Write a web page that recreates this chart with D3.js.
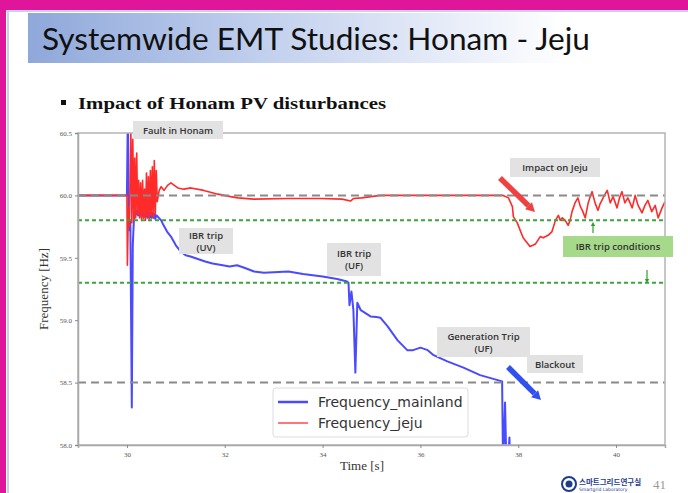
<!DOCTYPE html>
<html><head><meta charset="utf-8">
<script src="https://cdn.jsdelivr.net/npm/d3@7"></script>
<style>html,body{margin:0;padding:0;background:#fff;}svg{display:block;}</style>
</head><body>
<svg id="c" width="688" height="493"></svg>
<script>
// ---- data ----
const titleText = "Systemwide EMT Studies: Honam - Jeju";
const subtitleText = "Impact of Honam PV disturbances";
const seriesNames = ["Frequency_mainland", "Frequency_jeju"];
const xTicks = [30, 32, 34, 36, 38, 40];
const yTicks = [58.0, 58.5, 59.0, 59.5, 60.0, 60.5];
const greyRefLines = [60.0, 58.5];
const greenRefLines = [59.8, 59.3];

const tMain = [29, 30.0, 30.02, 30.03, 30.05, 30.07, 30.1, 30.12, 30.15, 30.18, 30.2, 30.22, 30.24, 30.26, 30.28, 30.3, 30.32, 30.34, 30.36, 30.38, 30.4, 30.42, 30.44, 30.46, 30.48, 30.5, 30.52, 30.54, 30.56, 30.58, 30.6, 30.63, 30.7, 30.75, 30.82, 30.9, 31.0, 31.1, 31.2, 31.3, 31.45, 31.6, 31.75, 31.9, 32.1, 32.25, 32.4, 32.6, 32.8, 33.0, 33.3, 33.6, 34.0, 34.3, 34.5, 34.53, 34.55, 34.59, 34.63, 34.67, 34.71, 34.78, 34.9, 34.98, 35.1, 35.18, 35.33, 35.53, 35.73, 35.85, 36.0, 36.15, 36.27, 36.55, 36.88, 37.22, 37.49, 37.67, 37.69, 37.73, 37.76, 37.78, 37.82, 37.84];
const fMain = [60, 60, 60.7, 59.85, 59.72, 59.8, 58.3, 59.6, 59.87, 59.85, 59.88, 59.84, 59.87, 59.83, 59.86, 59.84, 59.87, 59.82, 59.86, 59.83, 59.87, 59.82, 59.86, 59.82, 59.86, 59.82, 59.86, 59.82, 59.85, 59.81, 59.84, 59.83, 59.8, 59.76, 59.71, 59.67, 59.6, 59.55, 59.52, 59.51, 59.49, 59.47, 59.455, 59.445, 59.43, 59.44, 59.42, 59.39, 59.38, 59.385, 59.39, 59.37, 59.35, 59.33, 59.31, 59.3, 59.12, 59.23, 59.08, 58.58, 59.14, 59.08, 59.05, 59.03, 59.025, 59.02, 58.95, 58.84, 58.76, 58.76, 58.78, 58.76, 58.72, 58.67, 58.62, 58.56, 58.53, 58.51, 57.8, 58.34, 57.8, 57.8, 58.06, 57.8];

const tJeju = [29, 30.0, 30.01, 30.03, 30.05, 30.08, 30.1, 30.12, 30.14, 30.16, 30.18, 30.2, 30.22, 30.24, 30.26, 30.28, 30.3, 30.32, 30.34, 30.36, 30.38, 30.4, 30.42, 30.44, 30.46, 30.48, 30.5, 30.52, 30.54, 30.56, 30.58, 30.6, 30.62, 30.66, 30.7, 30.76, 30.83, 30.9, 31.04, 31.16, 31.31, 31.57, 31.86, 32.12, 32.27, 32.59, 33.29, 33.96, 34.4, 34.57, 34.63, 34.8, 35.18, 35.6, 36.5, 37.69, 37.80, 37.88, 37.9, 37.98, 38.04, 38.10, 38.18, 38.24, 38.3, 38.35, 38.45, 38.51, 38.61, 38.69, 38.76, 38.82, 38.86, 38.90, 38.96, 39.02, 39.06, 39.1, 39.16, 39.22, 39.27, 39.31, 39.37, 39.43, 39.47, 39.51, 39.57, 39.63, 39.67, 39.71, 39.76, 39.82, 39.88, 39.94, 40.02, 40.07, 40.12, 40.18, 40.24, 40.33, 40.39, 40.45, 40.53, 40.59, 40.65, 40.73, 40.80, 40.86, 40.94, 41.0];
const fJeju = [60, 60, 59.44, 59.9, 59.75, 60.55, 59.78, 60.45, 59.8, 60.3, 59.82, 60.34, 59.85, 60.12, 59.82, 60.1, 59.8, 60.12, 59.82, 60.05, 59.8, 60.18, 59.83, 60.15, 59.8, 60.2, 59.84, 60.23, 59.82, 60.28, 59.85, 60.2, 59.95, 60.04, 60.07, 60.04, 60.08, 60.1, 60.06, 60.05, 60.06, 60.04, 60.01, 59.99, 59.98, 59.97, 59.975, 59.975, 59.97, 59.955, 59.975, 59.98, 60.0, 60.0, 60.0, 60.0, 59.98, 59.91, 59.83, 59.78, 59.72, 59.66, 59.62, 59.59, 59.6, 59.61, 59.67, 59.66, 59.68, 59.71, 59.80, 59.84, 59.80, 59.82, 59.80, 59.76, 59.80, 59.87, 59.94, 59.98, 59.91, 59.88, 59.82, 59.94, 59.99, 60.03, 59.94, 59.88, 59.93, 59.96, 60.0, 60.04, 59.94, 59.99, 59.90, 59.98, 60.03, 59.94, 59.98, 59.90, 60.0, 59.92, 59.86, 59.92, 59.96, 59.87, 59.92, 59.82, 59.90, 59.95];

const annotations = [
  {lines: ["Fault in Honam"]},
  {lines: ["IBR trip", "(UV)"]},
  {lines: ["IBR trip", "(UF)"]},
  {lines: ["Impact on Jeju"]},
  {lines: ["IBR trip conditions"]},
  {lines: ["Generation Trip", "(UF)"]},
  {lines: ["Blackout"]}
];
const logoText = "스마트그리드연구실";
const pageNumber = "41";

// ---- drawing ----
const svg = d3.select("#c");
const defs = svg.append("defs");

// slide frame
svg.append("rect").attr("x",0).attr("y",0).attr("width",688).attr("height",10).attr("fill","#e0169a");
svg.append("rect").attr("x",0).attr("y",0).attr("width",6).attr("height",493).attr("fill","#e0169a");
svg.append("rect").attr("x",6).attr("y",10).attr("width",682).attr("height",2).attr("fill","#c4d2f0");
svg.append("rect").attr("x",7).attr("y",10).attr("width",2).attr("height",483).attr("fill","#c4d2f0");

// title band
const g1 = defs.append("linearGradient").attr("id","tg").attr("x1","0").attr("x2","1").attr("y1","0").attr("y2","0");
g1.append("stop").attr("offset","0").attr("stop-color","#8fa8da");
g1.append("stop").attr("offset","0.45").attr("stop-color","#c3d1ee");
g1.append("stop").attr("offset","1").attr("stop-color","#ffffff");
svg.append("rect").attr("x",28).attr("y",13).attr("width",540).attr("height",50).attr("fill","url(#tg)");
svg.append("text").attr("x",42).attr("y",50).attr("font-family","Lato, 'Open Sans', sans-serif")
  .attr("font-size",31).attr("fill","#111").attr("textLength",548).attr("lengthAdjust","spacingAndGlyphs").text(titleText);

// subtitle
svg.append("rect").attr("x",61).attr("y",100).attr("width",5).attr("height",5).attr("fill","#111");
svg.append("text").attr("x",78).attr("y",109).attr("font-family","'Liberation Serif', serif").attr("font-weight","bold")
  .attr("font-size",17).attr("fill","#111").attr("textLength",308).attr("lengthAdjust","spacingAndGlyphs").text(subtitleText);

// chart
const L = 78, R = 665, T = 133, B = 445;
const x = d3.scaleLinear().domain([29, 41]).range([L, R]);
const y = d3.scaleLinear().domain([58, 60.5]).range([B, T]);

defs.append("clipPath").attr("id","pc").append("rect").attr("x",L).attr("y",T).attr("width",R-L).attr("height",B-T);

const plot = svg.append("g").attr("clip-path","url(#pc)");
const line = d3.line().x(d => x(d[0])).y(d => y(d[1]));
const mainData = tMain.map((t,i)=>[t,fMain[i]]);
const jejuData = tJeju.map((t,i)=>[t,fJeju[i]]);

plot.append("path").datum(mainData).attr("d",line).attr("fill","none").attr("stroke","#4a4aff").attr("stroke-width",2).attr("stroke-linejoin","round");
plot.append("path").datum(jejuData).attr("d",line).attr("fill","none").attr("stroke","#ff2a2a").attr("stroke-width",1.6).attr("stroke-linejoin","round");

plot.selectAll(".gr").data(greyRefLines).enter().append("line")
  .attr("x1",L).attr("x2",R).attr("y1",d=>y(d)).attr("y2",d=>y(d))
  .attr("stroke","#8a8a8a").attr("stroke-width",2).attr("stroke-dasharray","8,5");
plot.selectAll(".gn").data(greenRefLines).enter().append("line")
  .attr("x1",L).attr("x2",R).attr("y1",d=>y(d)).attr("y2",d=>y(d))
  .attr("stroke","#3aa63a").attr("stroke-width",2).attr("stroke-dasharray","4,3");

// frame + axes
svg.append("rect").attr("x",L).attr("y",T).attr("width",R-L).attr("height",B-T).attr("fill","none").attr("stroke","#b4b4b4").attr("stroke-width",1.5);
const xa = svg.append("g").attr("transform",`translate(0,${B})`).call(d3.axisBottom(x).tickValues(xTicks).tickSize(3).tickPadding(4).tickFormat(d3.format("d")));
const ya = svg.append("g").attr("transform",`translate(${L},0)`).call(d3.axisLeft(y).tickValues(yTicks).tickSize(3).tickPadding(3).tickFormat(d3.format(".1f")));
[xa, ya].forEach(a => {
  a.select(".domain").attr("stroke","#a8a8a8").attr("stroke-width",1.5);
  a.selectAll(".tick line").attr("stroke","#888");
  a.selectAll(".tick text").attr("font-family","'Liberation Serif', serif").attr("font-size",7).attr("fill","#555");
});
svg.append("text").attr("x",362).attr("y",470).attr("text-anchor","middle").attr("font-family","'Liberation Serif', serif")
  .attr("font-size",13).attr("fill","#333").text("Time [s]");
svg.append("text").attr("transform","translate(48,289) rotate(-90)").attr("text-anchor","middle").attr("font-family","'Liberation Serif', serif")
  .attr("font-size",13).attr("fill","#333").text("Frequency [Hz]");

// legend
const lg = svg.append("g");
lg.append("rect").attr("x",273).attr("y",388).attr("width",195).attr("height",49).attr("rx",3).attr("fill","#fff").attr("fill-opacity",0.85).attr("stroke","#dcdcdc");
lg.append("line").attr("x1",278).attr("x2",308).attr("y1",402).attr("y2",402).attr("stroke","#4a4aff").attr("stroke-width",2.5);
lg.append("line").attr("x1",278).attr("x2",308).attr("y1",423).attr("y2",423).attr("stroke","#ff4a4a").attr("stroke-width",1.5);
lg.selectAll("text").data(seriesNames).enter().append("text").attr("x",318).attr("y",(d,i)=>407+i*21)
  .attr("font-family","'DejaVu Sans', sans-serif").attr("font-size",14).attr("fill","#333").text(d=>d);

// annotation boxes
const boxLayout = [
  {x:133, y:121, w:90, h:18, fill:"#e2e2e2"},
  {x:179, y:228, w:54, h:26, fill:"#e2e2e2"},
  {x:327, y:243, w:54, h:33, fill:"#e2e2e2"},
  {x:510, y:158, w:90, h:19, fill:"#e2e2e2"},
  {x:563, y:236, w:110, h:21, fill:"#a6d98a"},
  {x:437, y:327, w:93, h:30, fill:"#e2e2e2"},
  {x:527, y:355, w:56, h:18, fill:"#e2e2e2"}
];
annotations.forEach((a,i) => {
  const b = boxLayout[i];
  const g = svg.append("g");
  g.append("rect").attr("x",b.x).attr("y",b.y).attr("width",b.w).attr("height",b.h).attr("fill",b.fill);
  const n = a.lines.length;
  a.lines.forEach((s,j) => {
    g.append("text").attr("x",b.x+b.w/2).attr("y", b.y + b.h/2 + 3.5 + (j - (n-1)/2) * (n===1?0:12))
      .attr("text-anchor","middle").attr("font-family","'Open Sans', 'Noto Sans', sans-serif").attr("font-weight",600)
      .attr("font-size",9.5).attr("fill","#333").text(s);
  });
});

// arrows
function arrow(x1,y1,x2,y2,color,w,head){
  const ang = Math.atan2(y2-y1,x2-x1);
  const bx = x2 - head*Math.cos(ang), by = y2 - head*Math.sin(ang);
  svg.append("line").attr("x1",x1).attr("y1",y1).attr("x2",bx).attr("y2",by).attr("stroke",color).attr("stroke-width",w);
  const hw = head*0.55;
  const p = [[x2,y2],[bx + hw*Math.sin(ang), by - hw*Math.cos(ang)],[bx - hw*Math.sin(ang), by + hw*Math.cos(ang)]];
  svg.append("path").attr("d","M"+p.map(q=>q.join(",")).join("L")+"Z").attr("fill",color);
}
arrow(500,178,535,212,"#f04040",5.5,9);
arrow(508,367,541,400,"#3050f0",5.5,9);
arrow(593,233,593,222,"#2aa02a",1.2,4);
arrow(647,270,647,283,"#2aa02a",1.2,4);

// logo
svg.append("circle").attr("cx",569).attr("cy",484).attr("r",7).attr("fill","#fff").attr("stroke","#1d3c8c").attr("stroke-width",2);
svg.append("circle").attr("cx",569).attr("cy",484).attr("r",3.5).attr("fill","#1d3c8c");
svg.append("text").attr("x",579).attr("y",485).attr("font-family","'Noto Sans CJK KR', sans-serif").attr("font-weight","bold")
  .attr("font-size",7.5).attr("fill","#1d3c8c").text(logoText);
svg.append("text").attr("x",579).attr("y",491).attr("font-family","'DejaVu Sans', sans-serif").attr("font-size",4.5).attr("fill","#1d3c8c").text("Smartgrid Laboratory");
svg.append("text").attr("x",653).attr("y",489).attr("font-family","'Liberation Serif', serif").attr("font-size",13).attr("fill","#9a9a9a").text(pageNumber);
</script>
</body></html>
